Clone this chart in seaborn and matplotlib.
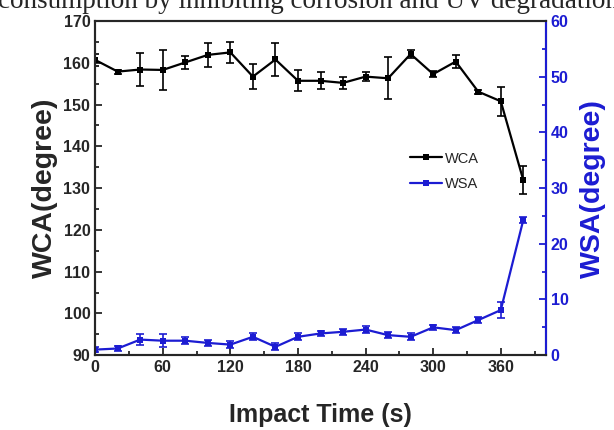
import numpy as np
import pandas as pd
import seaborn as sns
import matplotlib.pyplot as plt

# impact time (s) and contact / sliding angles
time_s = [0, 20, 40, 60, 80, 100, 120, 140, 160, 180,
          200, 220, 240, 260, 280, 300, 320, 340, 360, 380]
wca = [160.7, 157.9, 158.4, 158.3, 160.1, 161.9, 162.5, 156.7, 160.8, 155.7,
       155.7, 155.2, 156.7, 156.3, 162.1, 157.3, 160.3, 153.1, 150.8, 131.9]
wca_err = [1.5, 0.5, 4.0, 4.8, 1.5, 2.8, 2.5, 3.0, 4.0, 2.5,
           2.0, 1.5, 1.0, 5.0, 1.0, 0.8, 1.5, 0.5, 3.5, 3.3]
wsa = [1.0, 1.2, 2.8, 2.6, 2.6, 2.2, 1.9, 3.3, 1.5, 3.3,
       3.9, 4.2, 4.6, 3.6, 3.3, 5.0, 4.5, 6.3, 8.1, 24.3]
wsa_err = [0.5, 0.5, 1.0, 1.2, 0.6, 0.6, 0.6, 0.6, 0.6, 0.6,
           0.5, 0.5, 0.6, 0.6, 0.6, 0.5, 0.6, 0.6, 1.5, 0.6]

df = pd.DataFrame({'time': time_s, 'WCA': wca, 'WSA': wsa})

sns.set_style('ticks')
plt.rcParams['font.family'] = ['Liberation Sans', 'DejaVu Sans']
plt.rcParams['font.weight'] = 'bold'

blue = '#1c1cd2'

fig = plt.figure(figsize=(6.14, 4.3), dpi=100)
ax = fig.add_axes([0.155, 0.174, 0.734, 0.777])
ax2 = ax.twinx()

ax.errorbar(time_s, wca, yerr=wca_err, fmt='none', ecolor='black', elinewidth=1.2, capsize=3, capthick=1.2)
sns.lineplot(data=df, x='time', y='WCA', ax=ax, color='black', marker='s', markersize=5,
             markeredgewidth=0, linewidth=1.6, label='WCA', legend=False)
ax2.errorbar(time_s, wsa, yerr=wsa_err, fmt='none', ecolor=blue, elinewidth=1.2, capsize=3, capthick=1.2)
sns.lineplot(data=df, x='time', y='WSA', ax=ax2, color=blue, marker='s', markersize=5,
             markeredgewidth=0, linewidth=1.6, label='WSA', legend=False)

ax.set_xlim(0, 400)
ax.set_ylim(90, 170)
ax2.set_ylim(0, 60)
ax.set_xticks([0, 60, 120, 180, 240, 300, 360])
ax.set_xticks([30, 90, 150, 210, 270, 330, 390], minor=True)
ax.set_yticks(range(90, 171, 10))
ax.set_yticks(range(95, 170, 10), minor=True)
ax2.set_yticks(range(0, 61, 10))
ax2.set_yticks(range(5, 60, 10), minor=True)

ax.tick_params(axis='both', which='both', direction='in', labelsize=11.5, width=1.3)
ax.tick_params(which='major', length=5)
ax.tick_params(which='minor', length=3)
ax2.tick_params(axis='y', which='both', direction='in', colors=blue, labelsize=11.5, width=1.3)
ax2.tick_params(which='major', length=5)
ax2.tick_params(which='minor', length=3)
for lab in ax.get_xticklabels() + ax.get_yticklabels() + ax2.get_yticklabels():
    lab.set_fontweight('bold')

for sp in ax.spines.values():
    sp.set_linewidth(1.5)
for sp in ax2.spines.values():
    sp.set_linewidth(1.5)
ax2.spines['right'].set_color(blue)

ax.set_xlabel('Impact Time (s)', fontsize=18, fontweight='bold', labelpad=20)
ax.set_ylabel('WCA(degree)', fontsize=20.5, fontweight='bold', labelpad=4)
ax2.set_ylabel('WSA(degree)', fontsize=20.5, fontweight='bold', color=blue, labelpad=8)

h1, l1 = ax.get_legend_handles_labels()
h2, l2 = ax2.get_legend_handles_labels()
leg = ax2.legend(h1 + h2, l1 + l2, loc='center left', bbox_to_anchor=(0.67, 0.55),
                 frameon=False, fontsize=10.5, handlelength=2.2, handletextpad=0.2, labelspacing=0.8)
for t in leg.get_texts():
    t.set_fontweight('normal')

# cut-off caption line from the page above the figure
fig.text(-0.003, 0.981, 'consumption by inhibiting corrosion and UV degradation',
         fontsize=19.5, family='Liberation Serif', fontweight='normal', va='baseline', ha='left')

fig.savefig('out.png', dpi=100)
